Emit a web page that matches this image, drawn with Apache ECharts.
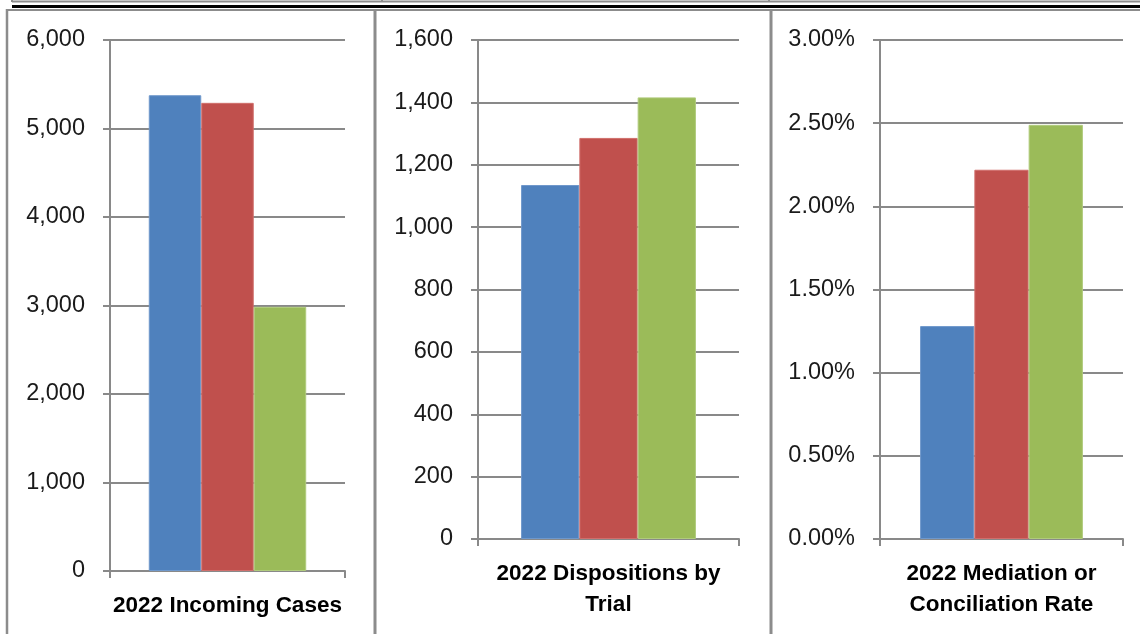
<!DOCTYPE html>
<html>
<head>
<meta charset="utf-8">
<script src="https://cdn.jsdelivr.net/npm/echarts@6/dist/echarts.min.js"></script>
<style>
html,body{margin:0;padding:0;background:#fff;}
#chart{width:1140px;height:634px;}
</style>
</head>
<body>
<div id="chart"></div>
<script>
// ---- data ----
const categories1 = ['2022 Incoming Cases'];
const categories2 = ['2022 Dispositions by\nTrial'];
const categories3 = ['2022 Mediation or\nConciliation Rate'];
const incomingCases = [5376, 5290, 2985];
const dispositionsByTrial = [1135, 1286, 1416];
const mediationRatePct = [1.28, 2.22, 2.49];
const yTicks1 = [0, 1000, 2000, 3000, 4000, 5000, 6000];
const yTicks2 = [0, 200, 400, 600, 800, 1000, 1200, 1400, 1600];
const yTicks3 = [0, 0.5, 1.0, 1.5, 2.0, 2.5, 3.0];

// ---- styling ----
const colors = ['#4f81bd', '#c0504d', '#9bbb59'];
const borderColors = ['#6f98cb', '#d06f6c', '#b0cb7c'];
const gridGray = '#898989';
const FONT = 'Liberation Sans';

const chart = echarts.init(document.getElementById('chart'), null, {renderer: 'canvas'});

const grids = [
  {left: 110, top: 40, width: 235, height: 531},
  {left: 478, top: 40, width: 261, height: 499},
  {left: 880, top: 40, width: 243, height: 499}
];

function yAxis(idx, ticks, fmt) {
  return {
    type: 'value', gridIndex: idx,
    min: ticks[0], max: ticks[ticks.length - 1], interval: ticks[1] - ticks[0],
    axisLine: {show: true, lineStyle: {color: gridGray, width: 2}},
    axisTick: {show: true, length: 7, lineStyle: {color: gridGray, width: 2}},
    splitLine: {show: true, lineStyle: {color: gridGray, width: 2}},
    axisLabel: {margin: 25, fontFamily: FONT, fontSize: 23.5, color: '#1a1a1a', formatter: fmt}
  };
}
function xAxis(idx, cats) {
  return {
    type: 'category', gridIndex: idx, data: cats,
    axisLine: {show: true, lineStyle: {color: gridGray, width: 2}},
    axisTick: {show: true, length: 7, lineStyle: {color: gridGray, width: 2}},
    axisLabel: {margin: 19, interval: 0, fontFamily: FONT, fontSize: 22.5, fontWeight: 'bold',
                color: '#000', lineHeight: 31, align: 'center'}
  };
}
const commaFmt = v => v.toLocaleString('en-US');
const pctFmt = v => v.toFixed(2) + '%';

const datasets = [incomingCases, dispositionsByTrial, mediationRatePct];
const series = [];
datasets.forEach((vals, g) => {
  vals.forEach((v, i) => {
    series.push({
      type: 'bar', xAxisIndex: g, yAxisIndex: g,
      data: [v], barGap: '0%', barCategoryGap: '33%',
      itemStyle: {color: colors[i], borderColor: borderColors[i], borderWidth: 1},
      silent: true, animation: false
    });
  });
});

const lineGray = '#8c8c8c';
const graphic = [
  {type: 'line', shape: {x1: 12, y1: 1.5, x2: 1140, y2: 1.5}, style: {stroke: lineGray, lineWidth: 2}},
  {type: 'line', shape: {x1: 12, y1: 6.5, x2: 1140, y2: 6.5}, style: {stroke: '#000', lineWidth: 3}},
  {type: 'line', shape: {x1: 6, y1: 10, x2: 1140, y2: 10}, style: {stroke: lineGray, lineWidth: 2}},
  {type: 'line', shape: {x1: 12, y1: 0, x2: 12, y2: 2}, style: {stroke: lineGray, lineWidth: 2}},
  {type: 'line', shape: {x1: 382, y1: 0, x2: 382, y2: 2}, style: {stroke: lineGray, lineWidth: 2}},
  {type: 'line', shape: {x1: 769, y1: 0, x2: 769, y2: 2}, style: {stroke: lineGray, lineWidth: 2}},
  {type: 'line', shape: {x1: 7, y1: 9, x2: 7, y2: 634}, style: {stroke: lineGray, lineWidth: 2.5}},
  {type: 'line', shape: {x1: 375, y1: 9, x2: 375, y2: 634}, style: {stroke: lineGray, lineWidth: 3}},
  {type: 'line', shape: {x1: 771, y1: 9, x2: 771, y2: 634}, style: {stroke: lineGray, lineWidth: 3}}
];

chart.setOption({
  animation: false,
  backgroundColor: '#fff',
  grid: grids,
  xAxis: [xAxis(0, categories1), xAxis(1, categories2), xAxis(2, categories3)],
  yAxis: [yAxis(0, yTicks1, commaFmt), yAxis(1, yTicks2, commaFmt), yAxis(2, yTicks3, pctFmt)],
  series: series,
  graphic: graphic
});
</script>
</body>
</html>
